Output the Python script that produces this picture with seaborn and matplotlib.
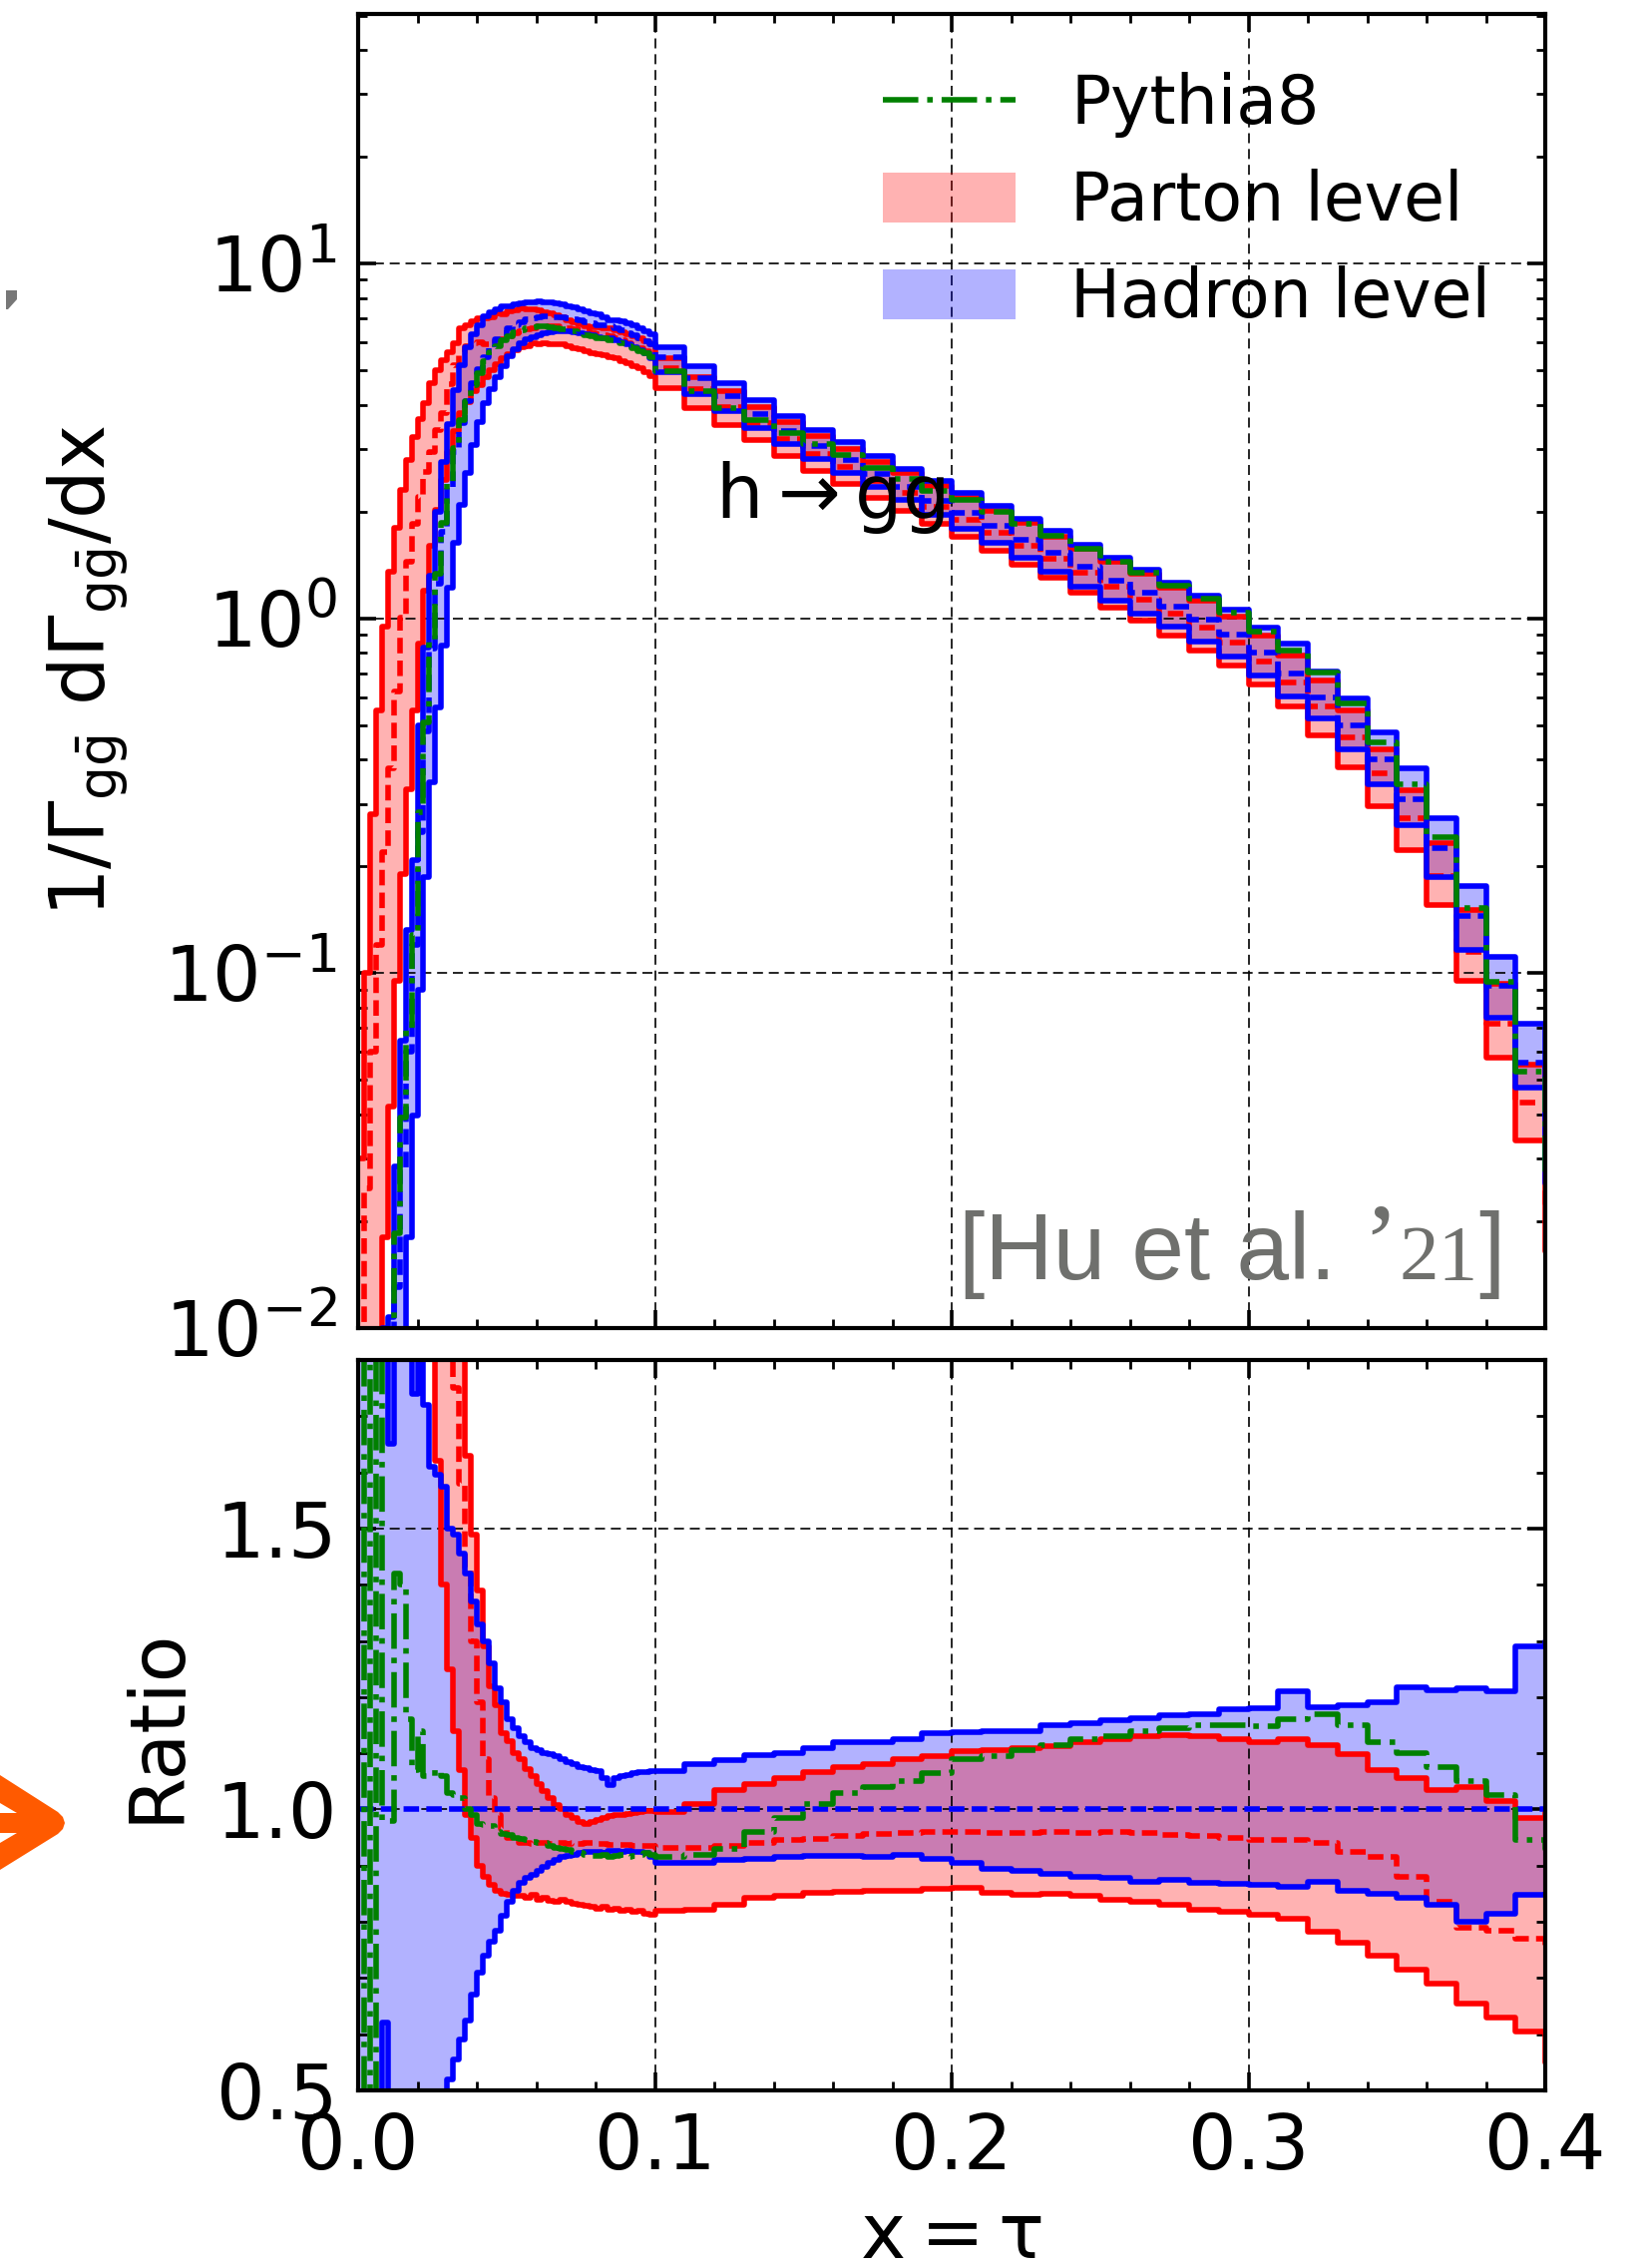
import numpy as np
import matplotlib
matplotlib.use("Agg")
import matplotlib.pyplot as plt
import seaborn as sns
from matplotlib import font_manager
from matplotlib.lines import Line2D
from matplotlib.patches import Patch, Polygon
from matplotlib.ticker import MultipleLocator, LogLocator, NullFormatter
from matplotlib.offsetbox import TextArea, HPacker, AnchoredOffsetbox

# ---------------- binning: 0.002 wide below x=0.1, 0.01 wide above ----------------
fine_edges = np.arange(0.0, 0.1, 0.002)
coarse_edges = np.arange(0.10, 0.4101, 0.01)
edges = np.round(np.concatenate([fine_edges, coarse_edges]), 4)

# hadron-level central value of 1/Gamma dGamma/dx per bin
hadron_central = [
    0.0004, 0.0008, 0.0015, 0.0025, 0.004, 0.0065, 0.013, 0.028, 0.06, 0.12,
    0.25, 0.48, 0.82, 1.25, 1.75, 2.35, 2.95, 3.55, 4.1, 4.6,
    5.05, 5.45, 5.8, 6.1, 6.35, 6.55, 6.72, 6.85, 6.95, 7.02,
    7.06, 7.08, 7.08, 7.07, 7.04, 7.0, 6.95, 6.9, 6.84, 6.78,
    6.72, 6.68, 6.64, 6.56, 6.48, 6.38, 6.28, 6.17, 6.05, 5.93,
    5.45, 4.75, 4.22, 3.77, 3.38, 3.06, 2.8, 2.56, 2.35, 2.15,
    1.98, 1.82, 1.67, 1.53, 1.4, 1.28, 1.18, 1.08, 0.99, 0.9,
    0.8, 0.7, 0.6, 0.5, 0.4, 0.31, 0.225, 0.145, 0.092, 0.056,
    0.03]

# ratios to the hadron-level central value
hadron_hi_ratio = [
    3.0, 2.5, 3.0, 2.5, 2.5, 1.65, 2.2, 2.3, 2.2, 1.74,
    2.0, 1.72, 1.61, 1.595, 1.575, 1.50, 1.49, 1.455, 1.42, 1.37,
    1.33, 1.30, 1.26, 1.215, 1.19, 1.16, 1.145, 1.13, 1.12, 1.11,
    1.105, 1.10, 1.098, 1.095, 1.09, 1.085, 1.08, 1.075, 1.074, 1.07,
    1.068, 1.055, 1.043, 1.055, 1.06, 1.062, 1.065, 1.066, 1.066, 1.068,
    1.068, 1.08, 1.088, 1.096, 1.10, 1.11, 1.12, 1.12, 1.125, 1.135,
    1.137, 1.14, 1.14, 1.15, 1.153, 1.158, 1.163, 1.168, 1.17, 1.178,
    1.18, 1.21, 1.182, 1.186, 1.19, 1.218, 1.212, 1.216, 1.21, 1.29,
    1.3]
hadron_lo_ratio = [
    0.2, 0.3, 0.25, 0.35, 0.62, 0.3, 0.3, 0.3, 0.3, 0.33,
    0.36, 0.39, 0.42, 0.45, 0.48, 0.52, 0.555, 0.59, 0.625, 0.67,
    0.71, 0.74, 0.765, 0.785, 0.81, 0.835, 0.855, 0.87, 0.878, 0.884,
    0.89, 0.897, 0.905, 0.91, 0.915, 0.918, 0.92, 0.922, 0.924, 0.925,
    0.924, 0.923, 0.926, 0.927, 0.925, 0.926, 0.925, 0.924, 0.922, 0.915,
    0.905, 0.905, 0.91, 0.912, 0.915, 0.918, 0.917, 0.915, 0.92, 0.912,
    0.905, 0.895, 0.89, 0.885, 0.88, 0.878, 0.872, 0.875, 0.87, 0.868,
    0.865, 0.862, 0.872, 0.855, 0.85, 0.843, 0.83, 0.80, 0.815, 0.848,
    0.85]
parton_hi_ratio = [
    75, 125, 187, 220, 237, 208, 138, 82, 46.7, 27,
    14.6, 8.44, 5.61, 4.0, 3.06, 2.4, 2.02, 1.85, 1.63, 1.49,
    1.39, 1.29, 1.22, 1.185, 1.135, 1.122, 1.10, 1.09, 1.072, 1.06,
    1.045, 1.032, 1.02, 1.008, 1.0, 0.99, 0.985, 0.977, 0.975, 0.978,
    0.982, 0.985, 0.988, 0.99, 0.99, 0.992, 0.994, 0.996, 0.997, 0.998,
    0.995, 1.01, 1.035, 1.045, 1.055, 1.066, 1.075, 1.08, 1.09, 1.095,
    1.104, 1.106, 1.11, 1.112, 1.12, 1.126, 1.13, 1.132, 1.13, 1.125,
    1.12, 1.125, 1.115, 1.098, 1.07, 1.055, 1.035, 1.04, 1.015, 0.985,
    1.0]
parton_lo_ratio = [
    5.0, 3.75, 3.33, 3.2, 4.5, 6.46, 7.3, 6.79, 5.5, 4.58,
    3.4, 2.5, 1.95, 1.62, 1.40, 1.25, 1.14, 1.07, 0.99, 0.95,
    0.90, 0.88, 0.865, 0.855, 0.85, 0.848, 0.846, 0.846, 0.843, 0.848,
    0.84, 0.842, 0.838, 0.836, 0.84, 0.836, 0.832, 0.83, 0.828, 0.826,
    0.824, 0.826, 0.822, 0.824, 0.82, 0.822, 0.818, 0.82, 0.815, 0.812,
    0.82, 0.822, 0.83, 0.842, 0.846, 0.852, 0.853, 0.855, 0.856, 0.858,
    0.86, 0.852, 0.848, 0.85, 0.846, 0.84, 0.836, 0.83, 0.822, 0.818,
    0.812, 0.806, 0.782, 0.762, 0.74, 0.715, 0.69, 0.655, 0.63, 0.605,
    0.55]
parton_central_ratio = [
    15, 31, 40, 48, 55, 58, 48, 36, 24, 15.4,
    8.8, 5.4, 3.6, 2.72, 2.17, 1.94, 1.75, 1.58, 1.43, 1.30,
    1.19, 1.09, 1.02, 0.99, 0.965, 0.95, 0.945, 0.94, 0.94, 0.938,
    0.94, 0.94, 0.938, 0.94, 0.94, 0.938, 0.94, 0.938, 0.94, 0.94,
    0.938, 0.938, 0.937, 0.937, 0.936, 0.936, 0.935, 0.935, 0.935, 0.935,
    0.932, 0.932, 0.935, 0.94, 0.945, 0.948, 0.952, 0.956, 0.958, 0.96,
    0.96, 0.958, 0.958, 0.96, 0.958, 0.96, 0.958, 0.955, 0.952, 0.95,
    0.946, 0.945, 0.94, 0.925, 0.915, 0.88, 0.835, 0.79, 0.785, 0.77,
    0.75]
pythia_ratio = [
    0.3, 2.8, 0.4, 2.5, 0.98, 0.98, 1.42, 1.40, 1.16, 1.07,
    1.14, 1.06, 1.06, 1.07, 1.06, 1.03, 1.025, 1.02, 1.0, 0.99,
    0.975, 0.972, 0.97, 0.96, 0.956, 0.955, 0.95, 0.948, 0.945, 0.943,
    0.94, 0.94, 0.935, 0.932, 0.93, 0.928, 0.925, 0.922, 0.92, 0.918,
    0.918, 0.92, 0.915, 0.918, 0.92, 0.915, 0.918, 0.92, 0.922, 0.92,
    0.915, 0.92, 0.93, 0.96, 0.985, 1.01, 1.03, 1.04, 1.05, 1.065,
    1.09, 1.095, 1.105, 1.115, 1.125, 1.13, 1.14, 1.145, 1.15, 1.15,
    1.148, 1.16, 1.17, 1.15, 1.12, 1.1, 1.075, 1.05, 1.025, 0.945,
    0.93]

legend_labels = ["Pythia8", "Parton level", "Hadron level"]

# ---------------- style ----------------
sns.set_theme(style="white")
plt.rcParams["font.family"] = ["DejaVu Sans"]
plt.rcParams.update({
    "mathtext.default": "regular",
    "text.color": "black",
    "axes.labelcolor": "black",
    "xtick.color": "black",
    "ytick.color": "black",
    "axes.edgecolor": "black",
    "axes.axisbelow": "line",
})

W, H = 1650, 2273
fig = plt.figure(figsize=(W / 100, H / 100), dpi=100)
fig.patch.set_facecolor("white")


def fx(px):
    return px / W


def fy(py):
    return 1 - py / H


left, right = 359, 1549
ax1 = fig.add_axes([fx(left), fy(1331), fx(right - left), (1331 - 14) / H])
ax2 = fig.add_axes([fx(left), fy(2095), fx(right - left), (2095 - 1363) / H])

hc = np.asarray(hadron_central)
ratios = {
    "hhi": np.asarray(hadron_hi_ratio), "hlo": np.asarray(hadron_lo_ratio),
    "phi": np.asarray(parton_hi_ratio), "plo": np.asarray(parton_lo_ratio),
    "pc": np.asarray(parton_central_ratio), "py": np.asarray(pythia_ratio),
}
ones = np.ones_like(hc)

LW = 4.0
DASHED = (0, (2.8, 1.3))
RED, BLUE, GREEN = "red", "blue", "green"


def ext(v):
    return np.append(v, v[-1])


def stairs(ax, vals, **kw):
    sns.lineplot(x=edges, y=ext(vals), ax=ax, drawstyle="steps-post",
                 estimator=None, sort=False, legend=False, linewidth=LW, **kw)


def band(ax, lo, hi, color):
    ax.fill_between(edges, ext(lo), ext(hi), step="post", facecolor=color,
                    alpha=0.3, linewidth=0, zorder=1)


ax1.set_yscale("log")
for ax, scale in ((ax1, hc), (ax2, ones)):
    band(ax, scale * ratios["hlo"], scale * ratios["hhi"], BLUE)
    band(ax, scale * ratios["plo"], scale * ratios["phi"], RED)
    stairs(ax, scale * ratios["phi"], color=RED, linestyle="-")
    stairs(ax, scale * ratios["plo"], color=RED, linestyle="-")
    stairs(ax, scale * ratios["pc"], color=RED, linestyle=DASHED)
    stairs(ax, scale * ratios["hhi"], color=BLUE, linestyle="-")
    stairs(ax, scale * ratios["hlo"], color=BLUE, linestyle="-")
    stairs(ax, scale, color=BLUE, linestyle=DASHED)
    stairs(ax, scale * ratios["py"], color=GREEN, linestyle="-.")

# ---------------- axes formatting ----------------
for ax in (ax1, ax2):
    ax.set_xlim(0, 0.4)
    ax.xaxis.set_major_locator(MultipleLocator(0.1))
    ax.xaxis.set_minor_locator(MultipleLocator(0.02))
    ax.tick_params(which="both", direction="in", top=True, right=True,
                   bottom=True, left=True, labelsize=55)
    ax.tick_params(which="major", length=13, width=2.6, pad=15)
    ax.tick_params(which="minor", length=6.5, width=2.0)
    for sp in ax.spines.values():
        sp.set_linewidth(3)
        sp.set_color("black")
    ax.grid(True, which="major", color="black", linestyle=(0, (6, 3.5)),
            linewidth=1.2)
    ax.set_xlabel("")
    ax.set_ylabel("")

ax1.set_ylim(0.01, 50.5)
ax1.yaxis.set_major_locator(LogLocator(base=10, numticks=10))
ax1.yaxis.set_minor_locator(LogLocator(base=10, subs=np.arange(2, 10), numticks=20))
ax1.yaxis.set_minor_formatter(NullFormatter())
ax1.tick_params(labelbottom=False)

ax2.set_ylim(0.5, 1.8)
ax2.yaxis.set_major_locator(MultipleLocator(0.5))
ax2.yaxis.set_minor_locator(MultipleLocator(0.1))

ax1.set_ylabel(r"$1/\Gamma_{g\bar{g}}\ d\Gamma_{g\bar{g}}/dx$", fontsize=55)
ax1.yaxis.set_label_coords(-0.192, 0.5)
ax2.set_ylabel("Ratio", fontsize=55)
ax2.yaxis.set_label_coords(-0.138, 0.5)
ax2.set_xlabel(r"$x = \tau$", fontsize=55)
ax2.xaxis.set_label_coords(0.5, -0.150)

ax1.text(0.1203, 1.92, r"$h \rightarrow gg$", fontsize=54, ha="left",
         va="baseline", zorder=5)

# legend
handles = [
    Line2D([], [], color=GREEN, linestyle="-.", linewidth=LW),
    Patch(facecolor=RED, alpha=0.3, linewidth=0),
    Patch(facecolor=BLUE, alpha=0.3, linewidth=0),
]
ax1.legend(handles, legend_labels, loc="upper left",
           bbox_to_anchor=(0.4193, 0.976), frameon=False, fontsize=48,
           handlelength=2.0, handleheight=0.76, handletextpad=0.83,
           labelspacing=0.465, borderaxespad=0, borderpad=0.4)

# citation tag
names = {f.name for f in font_manager.fontManager.ttflist}
if "Liberation Sans Narrow" in names:
    sans_family, sans_size = "Liberation Sans Narrow", 80
else:
    sans_family, sans_size = "Liberation Sans", 68
cite_color = "#6f706d"
sans_props = dict(family=sans_family, size=sans_size, color=cite_color)
serif_big = dict(family="Liberation Serif", size=80, color=cite_color)
serif_small = dict(family="Liberation Serif", size=57, color=cite_color)
cite = HPacker(children=[
    TextArea("[Hu et al. ", textprops=sans_props),
    TextArea("\u2019", textprops=serif_big),
    TextArea("21", textprops=serif_small),
    TextArea("]", textprops=sans_props),
], align="baseline", pad=0, sep=0)
fig.add_artist(AnchoredOffsetbox(loc="lower left", child=cite, pad=0,
                                 borderpad=0, frameon=False,
                                 bbox_to_anchor=(fx(961), fy(1305)),
                                 bbox_transform=fig.transFigure))

# orange pointer on the left margin and small grey mark above it
arrow_pts = [(0, 1779), (58, 1816), (63, 1821), (65, 1827), (63, 1833),
             (58, 1838), (0, 1874), (0, 1847), (17, 1837), (0, 1837),
             (0, 1817), (17, 1817), (0, 1807)]
fig.add_artist(Polygon([(fx(x), fy(y)) for x, y in arrow_pts], closed=True,
                       facecolor="#ff5a00", edgecolor="none",
                       transform=fig.transFigure))
mark_pts = [(6, 291), (17, 291), (17, 300), (8, 310), (6, 310)]
fig.add_artist(Polygon([(fx(x), fy(y)) for x, y in mark_pts], closed=True,
                       facecolor="#777777", edgecolor="none",
                       transform=fig.transFigure))

fig.savefig("out.png", dpi=100, facecolor="white")
